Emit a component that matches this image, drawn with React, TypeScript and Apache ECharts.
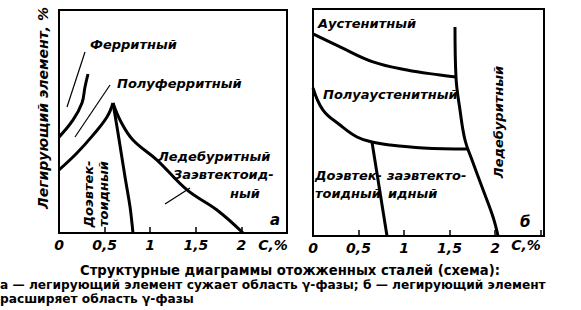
import React, { useEffect, useRef } from "react";
import * as echarts from "echarts";

// ---- Panel "а" (left) : x = C, %, y = alloying element (relative 0..100)
const ferriticX = [0, 0.154, 0.252, 0.285, 0.318];
const ferriticY = [43.0, 50.7, 58.3, 65.5, 71.3];
const halfFerriticX = [0, 0.197, 0.373, 0.526, 0.592];
const halfFerriticY = [28.3, 35.9, 43.9, 52.0, 58.3];
const eutectoidAX = [0.592, 0.647, 0.724, 0.779, 0.811];
const eutectoidAY = [58.3, 44.8, 25.1, 11.7, 0];
const ledeburiteAX = [0.592, 0.68, 0.811, 1.075, 1.404, 1.732, 2.018];
const ledeburiteAY = [58.3, 49.8, 41.7, 32.7, 19.3, 10.3, 0];

// ---- Panel "б" (right)
const austeniticX = [0, 0.297, 0.659, 1.033, 1.396, 1.571];
const austeniticY = [89.0, 83.3, 76.7, 73.1, 70.9, 70.0];
const ledeburiteBX = [1.56, 1.571, 1.615, 1.67, 1.747, 1.857, 1.978, 2.033];
const ledeburiteBY = [92.1, 70.0, 55.5, 42.3, 33.5, 21.6, 8.4, 0];
const halfAustX = [0, 0.11, 0.297, 0.484, 0.648, 0.846, 1.209, 1.703];
const halfAustY = [65.2, 55.5, 48.9, 43.6, 41.4, 40.1, 38.8, 38.3];
const eutectoidBX = [0.648, 0.813];
const eutectoidBY = [41.4, 0];

const xTickLabels = ["0", "0,5", "1", "1,5", "2"];
const xAxisName = "C,%";

const captionLines = [
  "Структурные диаграммы отожженных сталей (схема):",
  "а — легирующий элемент сужает область γ-фазы; б — легирующий элемент",
  "расширяет область γ-фазы",
];

const zip = (xs: number[], ys: number[]) => xs.map((x, i) => [x, ys[i]]);

const LABEL_FONT = "DejaVu Sans";

export default function App() {
  const ref = useRef<HTMLDivElement>(null);
  useEffect(() => {
    if (!ref.current) return;
    const chart = echarts.init(ref.current, null, { renderer: "svg" });
    const lineSeries = (
      xi: number,
      xs: number[],
      ys: number[],
      smooth: boolean | number
    ) => ({
      type: "line",
      xAxisIndex: xi,
      yAxisIndex: xi,
      data: zip(xs, ys),
      showSymbol: false,
      smooth,
      lineStyle: { color: "#000", width: 3 },
      silent: true,
    });
    const tickFmt = (v: number) => {
      const i = Math.round(v / 0.5);
      return Math.abs(v - i * 0.5) < 1e-6 && i < xTickLabels.length
        ? xTickLabels[i]
        : "";
    };
    const xAxisBase = {
      type: "value",
      min: 0,
      interval: 0.5,
      axisLine: { show: false },
      splitLine: { show: false },
      axisTick: {
        show: true,
        inside: true,
        length: 6,
        lineStyle: { color: "#000", width: 1.5 },
      },
      axisLabel: {
        color: "#000",
        fontFamily: LABEL_FONT,
        fontStyle: "italic",
        fontWeight: "bold",
        fontSize: 14,
        margin: 5,
        showMaxLabel: false,
        formatter: tickFmt,
      },
    };
    const yAxisBase = {
      type: "value",
      min: 0,
      max: 100,
      axisLine: { show: false },
      axisTick: { show: false },
      axisLabel: { show: false },
      splitLine: { show: false },
    };
    const txt = (x: number, y: number, text: string, opts: any = {}) => ({
      type: "text",
      x,
      y,
      rotation: opts.rotation || 0,
      style: {
        text,
        fill: "#000",
        fontFamily: opts.family || LABEL_FONT,
        fontStyle: opts.style || "italic",
        fontWeight: opts.weight || "bold",
        fontSize: opts.size || 13,
        align: opts.align || "left",
        verticalAlign: "middle",
      },
    });
    const ln = (x1: number, y1: number, x2: number, y2: number) => ({
      type: "line",
      shape: { x1, y1, x2, y2 },
      style: { stroke: "#000", lineWidth: 1.2 },
    });
    const cap = { family: "DejaVu Sans", style: "normal", weight: "bold", size: 12.2 };
    chart.setOption({
      animation: false,
      backgroundColor: "#fff",
      grid: [
        {
          left: 59,
          top: 10,
          width: 228,
          height: 223,
          show: true,
          borderColor: "#000",
          borderWidth: 2,
          backgroundColor: "transparent",
        },
        {
          left: 313,
          top: 9,
          width: 231,
          height: 227,
          show: true,
          borderColor: "#000",
          borderWidth: 2,
          backgroundColor: "transparent",
        },
      ],
      xAxis: [
        { ...xAxisBase, gridIndex: 0, max: 2.5 },
        { ...xAxisBase, gridIndex: 1, max: 2.538 },
      ],
      yAxis: [
        { ...yAxisBase, gridIndex: 0 },
        { ...yAxisBase, gridIndex: 1 },
      ],
      series: [
        lineSeries(0, ferriticX, ferriticY, 0.4),
        lineSeries(0, halfFerriticX, halfFerriticY, 0.4),
        lineSeries(0, eutectoidAX, eutectoidAY, 0.3),
        lineSeries(0, ledeburiteAX, ledeburiteAY, 0.4),
        lineSeries(1, austeniticX, austeniticY, 0.4),
        lineSeries(1, ledeburiteBX, ledeburiteBY, 0.4),
        lineSeries(1, halfAustX, halfAustY, 0.4),
        lineSeries(1, eutectoidBX, eutectoidBY, false),
      ],
      graphic: [
        // axis names
        txt(273, 245, xAxisName, { align: "center", size: 14 }),
        txt(526, 245, xAxisName, { align: "center", size: 14 }),
        // y axis title
        txt(43, 108, "Легирующий элемент, %", {
          rotation: Math.PI / 2,
          align: "center",
          size: 14,
        }),
        // panel а labels
        txt(90, 44, "Ферритный"),
        txt(117, 83, "Полуферритный"),
        txt(158, 156, "Ледебуритный"),
        txt(173, 174, "Заэвтектоид-"),
        txt(230, 193, "ный"),
        txt(88, 194, "Доэвтек-", { rotation: Math.PI / 2, align: "center" }),
        txt(103, 194, "тоидный", { rotation: Math.PI / 2, align: "center" }),
        txt(270, 220, "а", { size: 15 }),
        ln(85, 52, 67, 107),
        ln(110, 85, 75, 137),
        ln(190, 188, 165, 204),
        // panel б labels
        txt(318, 23, "Аустенитный"),
        txt(323, 94, "Полуаустенитный"),
        txt(315, 175, "Доэвтек-"),
        txt(315, 193, "тоидный"),
        txt(387, 175, "заэвтекто-"),
        txt(388, 193, "идный"),
        txt(498, 122, "Ледебуритный", {
          rotation: Math.PI / 2,
          align: "center",
        }),
        txt(520, 222, "б", { size: 15 }),
        // caption
        txt(290, 270, captionLines[0], { ...cap, size: 13.2, align: "center" }),
        txt(0, 284.5, captionLines[1], cap),
        txt(0, 298.5, captionLines[2], cap),
      ],
    });
    return () => chart.dispose();
  }, []);
  return (
    <div
      ref={ref}
      style={{
        position: "fixed",
        left: 0,
        top: 0,
        width: 581,
        height: 310,
        background: "#fff",
      }}
    />
  );
}
